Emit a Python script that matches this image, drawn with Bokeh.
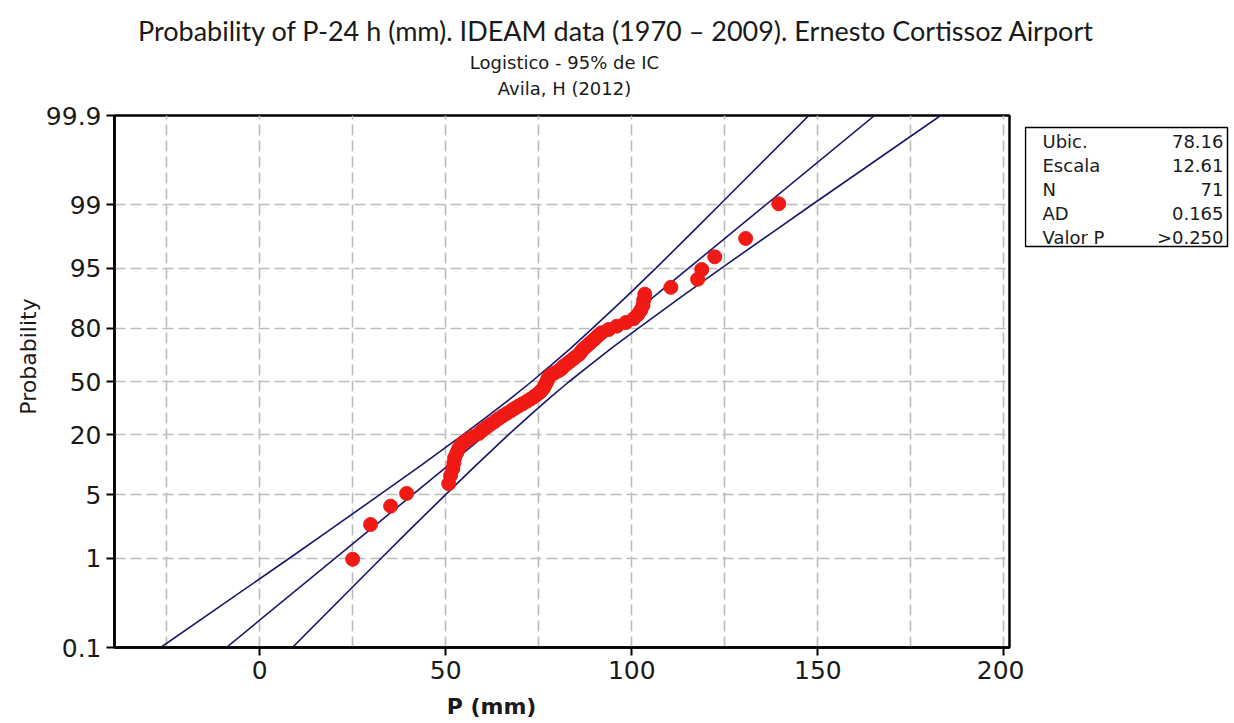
import math
from bokeh.plotting import figure
from bokeh.layouts import row, column
from bokeh.models import Range1d, FixedTicker, CustomJSTickFormatter, Label, BoxAnnotation, ColumnDataSource
from bokeh.embed import file_html
from bokeh.resources import INLINE

# ---------------- data ----------------
title_text = "Probability of P-24 h (mm). IDEAM data (1970 \u2013 2009). Ernesto Cortissoz Airport"
subtitle_1 = "Logistico - 95% de IC"
subtitle_2 = "Avila, H (2012)"
x_label = "P (mm)"
y_label = "Probability"

x_ticks = [0, 50, 100, 150, 200]
x_grid = [-25, 0, 25, 50, 75, 100, 125, 150, 175, 200]
prob_ticks = [0.1, 1, 5, 20, 50, 80, 95, 99, 99.9]
prob_grid = [1, 5, 20, 50, 80, 95, 99]

precip_mm = [25.0, 29.8, 35.2, 39.5, 50.8, 51.3, 51.9, 52.2, 52.4, 53.0,
             53.5, 54.3, 55.6, 57.0, 58.9, 59.9, 61.0, 62.1, 63.2, 64.2,
             65.3, 66.4, 67.5, 68.5, 69.6, 70.7, 71.8, 72.8, 73.7, 74.5,
             75.3, 75.8, 76.3, 76.6, 76.9, 77.2, 77.4, 77.7, 78.2, 79.3,
             80.4, 81.2, 81.7, 82.5, 83.3, 84.1, 84.9, 85.8, 86.3, 86.8,
             87.6, 88.4, 89.2, 90.1, 90.9, 91.9, 93.8, 96.0, 98.4, 100.5,
             101.6, 102.4, 103.0, 103.2, 103.5, 110.5, 117.7, 118.8, 122.3, 130.6, 139.5]
prob_pct = [0.98, 2.38, 3.78, 5.18, 6.58, 7.98, 9.38, 10.78, 12.18, 13.59,
            14.99, 16.39, 17.79, 19.19, 20.59, 21.99, 23.39, 24.79, 26.19, 27.59,
            28.99, 30.39, 31.79, 33.19, 34.59, 35.99, 37.39, 38.80, 40.20, 41.60,
            43.00, 44.40, 45.80, 47.20, 48.60, 50.00, 51.40, 52.80, 54.20, 55.60,
            57.00, 58.40, 59.80, 61.20, 62.61, 64.01, 65.41, 66.81, 68.21, 69.61,
            71.01, 72.41, 73.81, 75.21, 76.61, 78.01, 79.41, 80.81, 82.21, 83.61,
            85.01, 86.41, 87.82, 89.22, 90.62, 92.02, 93.42, 94.82, 96.22, 97.62, 99.02]

fit_loc = 78.16
fit_scale = 12.61
band_prob = [0.1, 1, 2, 5, 10, 20, 30, 40, 50, 60, 70, 80, 90, 95, 98, 99, 99.9]
band_lower = [-26.6, 7.9, 18.3, 32.2, 43.1, 54.6, 62.0, 67.9, 73.1, 78.1, 83.4, 89.5, 98.5, 106.5, 116.4, 123.7, 147.6]
band_upper = [8.8, 32.6, 39.9, 49.9, 57.9, 66.8, 73.0, 78.2, 83.2, 88.5, 94.3, 101.8, 113.3, 124.1, 138.1, 148.5, 183.0]

stat_names = ["Ubic.", "Escala", "N", "AD", "Valor P"]
stat_values = ["78.16", "12.61", "71", "0.165", ">0.250"]


def logit_pct(v):
    return math.log(v / (100.0 - v))


TEXT = "#1a1a1a"

# layout geometry (pixels)
TITLE_H = 100
BORDER_TOP, FRAME_H, BORDER_BOTTOM = 15, 532, 44
ROW_H = BORDER_TOP + FRAME_H + BORDER_BOTTOM
XLAB_H = 723 - TITLE_H - ROW_H
FRAME_BOTTOM_PX = TITLE_H + BORDER_TOP + FRAME_H
YL_W = 42
P_LEFT, FRAME_W, P_RIGHT = 71, 895, 15
ST_W = 1234 - YL_W - (P_LEFT + FRAME_W + P_RIGHT)
ST_X0 = 1234 - ST_W


def blank_fig(w, h, top=0, bottom=0):
    f = figure(width=w, height=h, output_backend="svg", toolbar_location=None,
               x_axis_type=None, y_axis_type=None, x_range=Range1d(0, 1), y_range=Range1d(0, 1),
               min_border=0, min_border_left=0, min_border_right=0,
               min_border_top=top, min_border_bottom=bottom,
               outline_line_color=None, background_fill_color="white", border_fill_color="white")
    f.xgrid.visible = False
    f.ygrid.visible = False
    return f


def add_text(fig, txt, x, y, font, size, style="normal", align="center", baseline="middle", angle=0.0):
    fig.add_layout(Label(x=x, y=y, x_units="screen", y_units="screen", text=txt,
                         text_font=font, text_font_size=size, text_font_style=style,
                         text_align=align, text_baseline=baseline, angle=angle, text_color=TEXT))


# ---------------- title strip ----------------
title_fig = blank_fig(1234, TITLE_H)
add_text(title_fig, title_text, 616, TITLE_H - 30, "Lato", "27px")
add_text(title_fig, subtitle_1, 564, TITLE_H - 62, "DejaVu Sans", "18px")
add_text(title_fig, subtitle_2, 564, TITLE_H - 88, "DejaVu Sans", "18px")

# ---------------- y label strip ----------------
ylab_fig = blank_fig(YL_W, ROW_H, BORDER_TOP, BORDER_BOTTOM)
add_text(ylab_fig, y_label, 28, FRAME_BOTTOM_PX - 356, "DejaVu Sans", "22px", angle=math.pi / 2)

# ---------------- main plot ----------------
p = figure(frame_width=FRAME_W, frame_height=FRAME_H, output_backend="svg", toolbar_location=None,
           x_range=Range1d(-39.0, 201.5),
           y_range=Range1d(logit_pct(0.1), logit_pct(99.9)),
           min_border_left=P_LEFT, min_border_right=P_RIGHT, min_border_top=BORDER_TOP,
           min_border_bottom=BORDER_BOTTOM,
           background_fill_color="white", border_fill_color="white")
p.outline_line_color = "black"
p.outline_line_width = 2.5

p.xgrid.ticker = FixedTicker(ticks=x_grid)
p.ygrid.ticker = FixedTicker(ticks=[logit_pct(v) for v in prob_grid])
for g in (p.xgrid, p.ygrid):
    g.grid_line_color = "#bcbcbc"
    g.grid_line_width = 1.6
    g.grid_line_dash = "11 5"

p.xaxis.ticker = FixedTicker(ticks=x_ticks)
p.yaxis.ticker = FixedTicker(ticks=[logit_pct(v) for v in prob_ticks])
p.yaxis.formatter = CustomJSTickFormatter(code="""
const q = 100/(1+Math.exp(-tick));
const r = Math.round(q);
if (Math.abs(q - r) < 0.02) { return r.toFixed(0); }
return q.toFixed(1);
""")
for ax in (p.xaxis, p.yaxis):
    ax.axis_line_width = 2.5
    ax.axis_line_color = "black"
    ax.major_tick_line_width = 2
    ax.major_tick_out = 8
    ax.major_tick_in = 0
    ax.minor_tick_line_color = None
    ax.major_label_text_font = "DejaVu Sans"
    ax.major_label_text_font_size = "25px"
    ax.major_label_text_color = TEXT
p.xaxis.major_label_standoff = 5
p.yaxis.major_label_standoff = 5

line_col = "#16166e"
band_y = [logit_pct(v) for v in band_prob]
p.line(band_lower, band_y, line_color=line_col, line_width=1.6)
p.line(band_upper, band_y, line_color=line_col, line_width=1.6)
fit_y = [logit_pct(prob_ticks[0]), logit_pct(prob_ticks[-1])]
fit_x = [fit_loc + fit_scale * v for v in fit_y]
p.line(fit_x, fit_y, line_color=line_col, line_width=1.6)

src = ColumnDataSource(data=dict(x=precip_mm, y=[logit_pct(v) for v in prob_pct]))
p.scatter("x", "y", source=src, size=14, fill_color="#f01a14", line_color="#f01a14")

# ---------------- stats box strip ----------------
st_fig = blank_fig(ST_W, ROW_H, BORDER_TOP, BORDER_BOTTOM)
box_left_px, box_right_px, box_top_px, box_bottom_px = ST_X0 + 1, 1226, 127, 246
st_fig.add_layout(BoxAnnotation(left=box_left_px - ST_X0, right=box_right_px - ST_X0,
                                top=FRAME_BOTTOM_PX - box_top_px, bottom=FRAME_BOTTOM_PX - box_bottom_px,
                                left_units="screen", right_units="screen", top_units="screen", bottom_units="screen",
                                fill_color="white", fill_alpha=1.0, line_color="black", line_alpha=1.0,
                                line_width=1.5))
row_centers_px = [141, 165, 189, 213, 237]
for nm, vl, cy in zip(stat_names, stat_values, row_centers_px):
    add_text(st_fig, nm, 1041 - ST_X0, FRAME_BOTTOM_PX - cy, "DejaVu Sans", "18px", align="left")
    add_text(st_fig, vl, 1222 - ST_X0, FRAME_BOTTOM_PX - cy, "DejaVu Sans", "18px", align="right")

# ---------------- x label strip ----------------
xlab_fig = blank_fig(1234, XLAB_H)
add_text(xlab_fig, x_label, 491, 723 - 706, "DejaVu Sans", "22px", style="bold")

layout = column(title_fig, row(ylab_fig, p, st_fig), xlab_fig)
open("out.html", "w").write(file_html(layout, INLINE))
